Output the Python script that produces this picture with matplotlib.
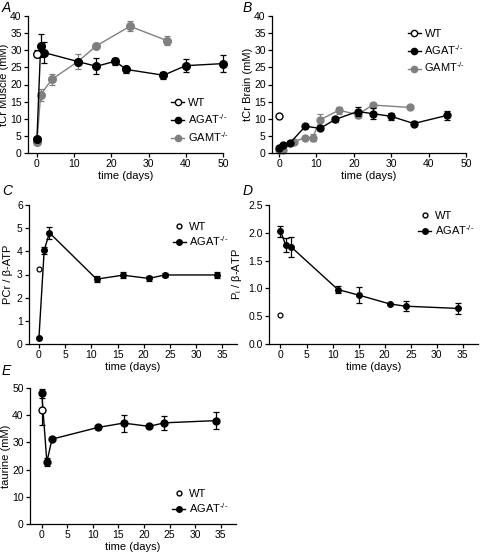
import numpy as np
import matplotlib
matplotlib.use("Agg")
import matplotlib.pyplot as plt
from matplotlib.lines import Line2D

plt.rcParams['font.family'] = ['Liberation Sans', 'DejaVu Sans']
plt.rcParams['mathtext.fontset'] = 'custom'
plt.rcParams['mathtext.rm'] = 'Liberation Sans'
plt.rcParams['mathtext.it'] = 'Liberation Sans:italic'

# ---- data ----
# A: tCr muscle
a_wt_t, a_wt_y, a_wt_e = [0], [29.0], [1.0]
a_agat_t = [0, 1, 2, 11, 16, 21, 24, 34, 40, 50]
a_agat_y = [4.0, 31.3, 29.3, 26.7, 25.3, 26.8, 24.4, 22.7, 25.5, 26.1]
a_agat_e = [0.6, 3.3, 3.0, 0.5, 2.3, 1.0, 1.0, 1.0, 1.8, 2.5]
a_gamt_t = [0, 1, 4, 11, 16, 25, 35]
a_gamt_y = [3.2, 17.0, 21.5, 26.7, 31.3, 37.0, 32.8]
a_gamt_e = [1.0, 1.8, 1.5, 2.3, 0.5, 1.5, 1.3]

# B: tCr brain
b_wt_t, b_wt_y, b_wt_e = [0], [10.8], [0.3]
b_agat_t = [0, 1, 3, 7, 11, 15, 21, 25, 30, 36, 45]
b_agat_y = [1.5, 2.2, 3.0, 7.8, 7.2, 9.8, 12.1, 11.5, 10.7, 8.6, 11.0]
b_agat_e = [0.3, 0.4, 0.3, 0.4, 0.5, 0.8, 1.3, 1.5, 1.0, 0.6, 1.3]
b_gamt_t = [0, 1, 4, 7, 9, 11, 16, 21, 25, 35]
b_gamt_y = [0.8, 1.0, 3.3, 4.5, 4.5, 9.7, 12.5, 11.2, 14.0, 13.3]
b_gamt_e = [0.3, 0.3, 0.4, 0.4, 1.0, 1.7, 1.0, 1.0, 0.5, 0.4]

# C: PCr / b-ATP
c_wt_t, c_wt_y = [0], [3.22]
c_agat_t = [0, 1, 2, 11, 16, 21, 24, 34]
c_agat_y = [0.27, 4.05, 4.8, 2.8, 2.97, 2.83, 2.98, 2.98]
c_agat_e = [0.03, 0.15, 0.25, 0.12, 0.13, 0.1, 0.08, 0.12]

# D: Pi / b-ATP
d_wt_t, d_wt_y = [0], [0.53]
d_agat_t = [0, 1, 2, 11, 15, 21, 24, 34]
d_agat_y = [2.03, 1.78, 1.75, 0.98, 0.88, 0.72, 0.68, 0.64]
d_agat_e = [0.1, 0.13, 0.18, 0.06, 0.15, 0.02, 0.09, 0.1]

# E: taurine
e_wt_t, e_wt_y, e_wt_e = [0], [41.8], [5.5]
e_agat_t = [0, 1, 2, 11, 16, 21, 24, 34]
e_agat_y = [48.0, 22.8, 31.2, 35.5, 37.1, 35.9, 37.2, 38.0]
e_agat_e = [1.8, 1.3, 0.8, 0.5, 3.1, 0.5, 2.5, 3.0]

W, H = 480, 553
fig = plt.figure(figsize=(W / 100, H / 100), dpi=100)
GREY = '#808080'
FS_TICK = 7.5
FS_LAB = 8


def make_ax(x0, x1, ytop, ybot):
    ax = fig.add_axes([x0 / W, 1 - ybot / H, (x1 - x0) / W, (ybot - ytop) / H])
    for s in ['top', 'right']:
        ax.spines[s].set_visible(False)
    for s in ['left', 'bottom']:
        ax.spines[s].set_linewidth(0.9)
    ax.tick_params(labelsize=FS_TICK, length=3, width=0.9, pad=1.5)
    return ax


def series(ax, t, y, e, color, ms=5, mfc=None, line=True, z=3):
    ax.errorbar(t, y, yerr=e, color=color, marker='o', ms=ms,
                mfc=mfc if mfc else color, mec=color, lw=1.0 if line else 0,
                elinewidth=0.9, capsize=2.2, capthick=0.9, zorder=z, clip_on=False)


def legend(ax, handles, labels, x, y, spacing=0.35):
    ax.legend(handles, labels, loc='upper left', bbox_to_anchor=(x, y),
              frameon=False, fontsize=FS_LAB, handlelength=1.2, handletextpad=0.3,
              borderpad=0, borderaxespad=0, labelspacing=spacing)


def panel_label(x, y, s):
    fig.text(x / W, 1 - y / H, s, fontsize=10, style='italic', va='top', ha='left')


agat_lab = 'AGAT$^{\\text{-/-}}$'
gamt_lab = 'GAMT$^{\\text{-/-}}$'

# ---- A ----
ax = make_ax(28, 223, 16, 153)
series(ax, a_gamt_t, a_gamt_y, a_gamt_e, GREY, ms=5.5, z=2)
series(ax, a_agat_t, a_agat_y, a_agat_e, 'black', ms=5.5, z=3)
series(ax, a_wt_t, a_wt_y, a_wt_e, 'black', ms=5.5, mfc='white', z=4)
ax.set_xlim(-2.4, 50)
ax.set_ylim(0, 40)
ax.set_xticks(np.arange(0, 51, 10))
ax.set_yticks(np.arange(0, 41, 5))
ax.set_xlabel('time (days)', fontsize=FS_LAB, labelpad=1)
ax.set_ylabel('tCr Muscle (mM)', fontsize=FS_LAB, labelpad=1)
h = [Line2D([], [], color='black', marker='o', mfc='white', ms=4.5, lw=1),
     Line2D([], [], color='black', marker='o', ms=4.5, lw=1),
     Line2D([], [], color=GREY, marker='o', ms=4.5, lw=1)]
legend(ax, h, ['WT', agat_lab, gamt_lab], 0.733, 0.40)
panel_label(2, 1, 'A')

# ---- B ----
ax = make_ax(272, 466, 16, 153)
series(ax, b_gamt_t, b_gamt_y, b_gamt_e, GREY, ms=5, z=2)
series(ax, b_agat_t, b_agat_y, b_agat_e, 'black', ms=5, z=3)
series(ax, b_wt_t, b_wt_y, b_wt_e, 'black', ms=5, mfc='white', line=False, z=4)
ax.set_xlim(-1.9, 50)
ax.set_ylim(0, 40)
ax.set_xticks(np.arange(0, 51, 10))
ax.set_yticks(np.arange(0, 41, 5))
ax.set_xlabel('time (days)', fontsize=FS_LAB, labelpad=1)
ax.set_ylabel('tCr Brain (mM)', fontsize=FS_LAB, labelpad=1)
legend(ax, h, ['WT', agat_lab, gamt_lab], 0.70, 0.905)
panel_label(243, 1, 'B')

# ---- C ----
ax = make_ax(29, 237, 205, 344)
series(ax, c_agat_t, c_agat_y, c_agat_e, 'black', ms=4, z=3)
ax.plot(c_wt_t, c_wt_y, 'o', ms=3.5, mfc='white', mec='black', mew=0.9, zorder=4)
ax.set_xlim(-1.9, 37.8)
ax.set_ylim(0, 6)
ax.set_xticks(np.arange(0, 36, 5))
ax.set_yticks(np.arange(0, 7, 1))
ax.set_xlabel('time (days)', fontsize=FS_LAB, labelpad=1)
ax.set_ylabel('PCr / β-ATP', fontsize=FS_LAB, labelpad=3)
h2 = [Line2D([], [], color='black', marker='o', mfc='white', ms=3.5, lw=0),
      Line2D([], [], color='black', marker='o', ms=4, lw=1)]
legend(ax, h2, ['WT', agat_lab], 0.69, 0.88, spacing=0.25)
panel_label(2, 184, 'C')

# ---- D ----
ax = make_ax(269, 478, 205, 344)
series(ax, d_agat_t, d_agat_y, d_agat_e, 'black', ms=4, z=3)
ax.plot(d_wt_t, d_wt_y, 'o', ms=3.5, mfc='white', mec='black', mew=0.9, zorder=4)
ax.set_xlim(-2.2, 37.9)
ax.set_ylim(0, 2.5)
ax.set_xticks(np.arange(0, 36, 5))
ax.set_yticks(np.arange(0, 2.51, 0.5))
ax.set_yticklabels([f'{v:.1f}' for v in np.arange(0, 2.51, 0.5)])
ax.set_xlabel('time (days)', fontsize=FS_LAB, labelpad=1)
ax.set_ylabel('P$_\\mathrm{i}$ / β-ATP', fontsize=FS_LAB, labelpad=3)
legend(ax, h2, ['WT', agat_lab], 0.713, 0.96, spacing=0.25)
panel_label(243, 184, 'D')

# ---- E ----
ax = make_ax(30, 236, 388, 524)
series(ax, e_agat_t, e_agat_y, e_agat_e, 'black', ms=5, z=3)
series(ax, e_wt_t, e_wt_y, e_wt_e, 'black', ms=5, mfc='white', line=False, z=4)
ax.set_xlim(-2.3, 38)
ax.set_ylim(0, 50)
ax.set_xticks(np.arange(0, 36, 5))
ax.set_yticks(np.arange(0, 51, 10))
ax.set_xlabel('time (days)', fontsize=FS_LAB, labelpad=1)
ax.set_ylabel('taurine (mM)', fontsize=FS_LAB, labelpad=1)
legend(ax, h2, ['WT', agat_lab], 0.69, 0.26, spacing=0.25)
panel_label(2, 364, 'E')

fig.savefig('out.png', dpi=100)
